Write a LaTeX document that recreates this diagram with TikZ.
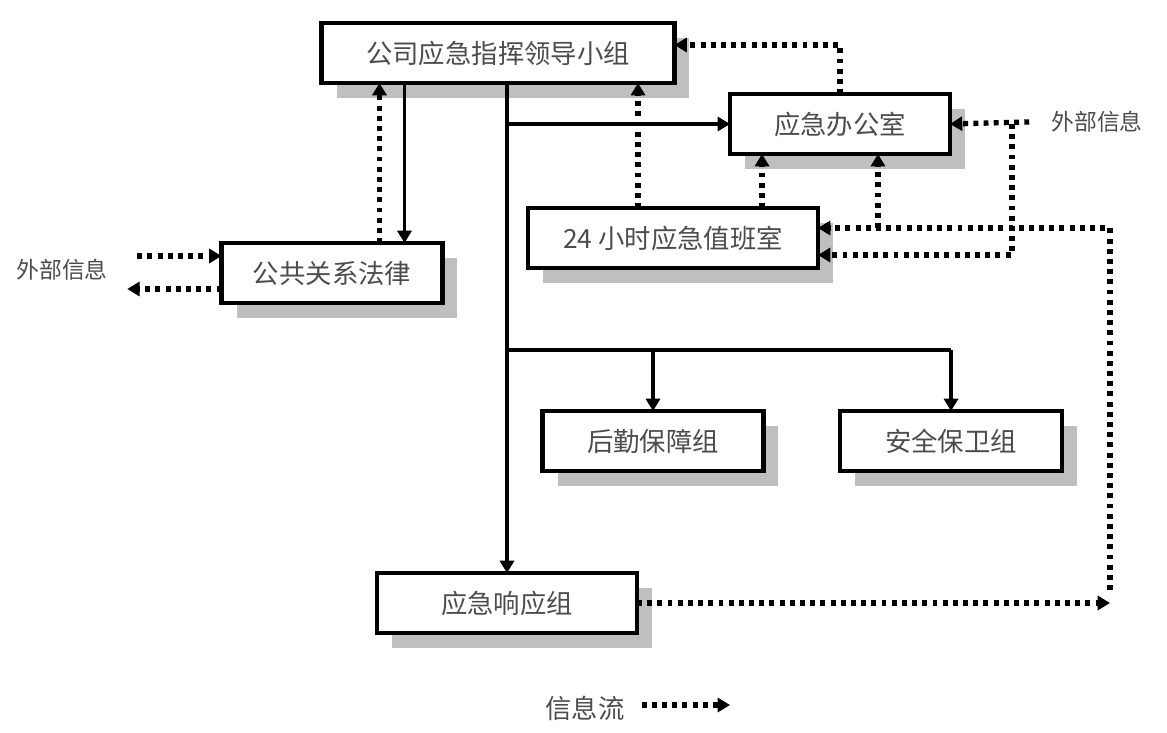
\documentclass[tikz,border=0pt]{standalone}
\usepackage{fontspec}
\setmainfont{Noto Sans CJK SC}
\usetikzlibrary{arrows.meta, shadows, calc}
\tikzset{
  unit/.style={
    rectangle, draw=black, line width=2.6pt, fill=white,
    text=black!70, font=\fontsize{15}{18}\selectfont,
    minimum height=1.2cm, inner sep=0pt, outer sep=0pt,
    drop shadow={shadow xshift=0.3cm, shadow yshift=-0.3cm, fill=black!25, opacity=1}
  },
  order/.style={->, line width=2.1pt},
  info/.style={->, line width=3pt, dash pattern=on 2.8pt off 3pt},
  note/.style={text=black!70, font=\fontsize{13}{15}\selectfont, inner sep=1pt}
}

\begin{document}
\begin{tikzpicture}[x=0.02cm, y=-0.02cm, >={Triangle[length=7pt,width=8pt]}]
  \useasboundingbox (0,0) rectangle (1167,733);

  % groups
  \node[unit, minimum width=7.06cm] (lead) at (498,53) {公司应急指挥领导小组};
  \node[unit, minimum width=4.4cm] (office) at (840,124) {应急办公室};
  \node[unit, minimum width=5.8cm] (duty) at (673,238) {24 小时应急值班室};
  \node[unit, minimum width=4.42cm] (pr) at (332,273) {公共关系法律};
  \node[unit, minimum width=4.42cm] (logi) at (653,441) {后勤保障组};
  \node[unit, minimum width=4.44cm] (sec) at (951,441) {安全保卫组};
  \node[unit, minimum width=5.2cm] (resp) at (507,603) {应急响应组};

  \node[note] (extr) at (1097,122) {外部信息};
  \node[note] (extl) at (62,270) {外部信息};

  \coordinate (split) at (507,350);
  \coordinate (jr) at (1012,124);
  \coordinate (far) at (1110,590);
  \coordinate (din) at ([yshift=0.2cm]duty.east);
  \coordinate (dlow) at ([yshift=-0.34cm]duty.east);
  \coordinate (pdown) at ([xshift=-0.76cm]pr.north east);
  \coordinate (pup) at ([xshift=-1.26cm]pr.north east);
  \coordinate (dup) at ([xshift=2.2cm]duty.north west);
  \coordinate (oleft) at ([xshift=0.64cm]office.south west);
  \coordinate (oright) at ([xshift=0.76cm]office.south);

  % command lines
  \draw[order] (lead.south -| resp.north) -- (resp.north);
  \draw[order] (resp.north |- office.west) -- (office.west);
  \draw[line width=2.1pt] (split) -| (sec.north |- split);
  \draw[order] (sec.north |- split) -- (sec.north);
  \draw[order] (logi.north |- split) -- (logi.north);
  \draw[order] (pdown |- lead.south) -- (pdown);

  % information flow
  \draw[info] (pup) -- (pup |- lead.south);
  \draw[info] (dup) -- (dup |- lead.south);
  \draw[info] (oleft |- duty.north) -- (oleft);
  \draw[info] (office.north) |- ([yshift=0.16cm]lead.east);
  \draw[info] ([xshift=-0.4cm]extr.west) -- (office.east);
  \draw[info] (jr) |- (dlow);
  \draw[info] (far) |- (din);
  \draw[info] (din -| oright) -- (oright);
  \draw[info] (resp.east) -- (resp.east -| far);
  \draw[info] ([xshift=0.55cm, yshift=0.34cm]pr.west -| extl.east) -- ([yshift=0.34cm]pr.west);
  \draw[info] ([yshift=-0.32cm]pr.west) -- ([xshift=0.35cm, yshift=-0.32cm]pr.west -| extl.east);

  % legend
  \node[note, font=\fontsize{15}{18}\selectfont] (legend) at (585,708) {信息流};
  \coordinate (legtip) at (730,705);
  \draw[info] ([xshift=0.3cm]legend.east |- legtip) -- (legtip);
\end{tikzpicture}
\end{document}
